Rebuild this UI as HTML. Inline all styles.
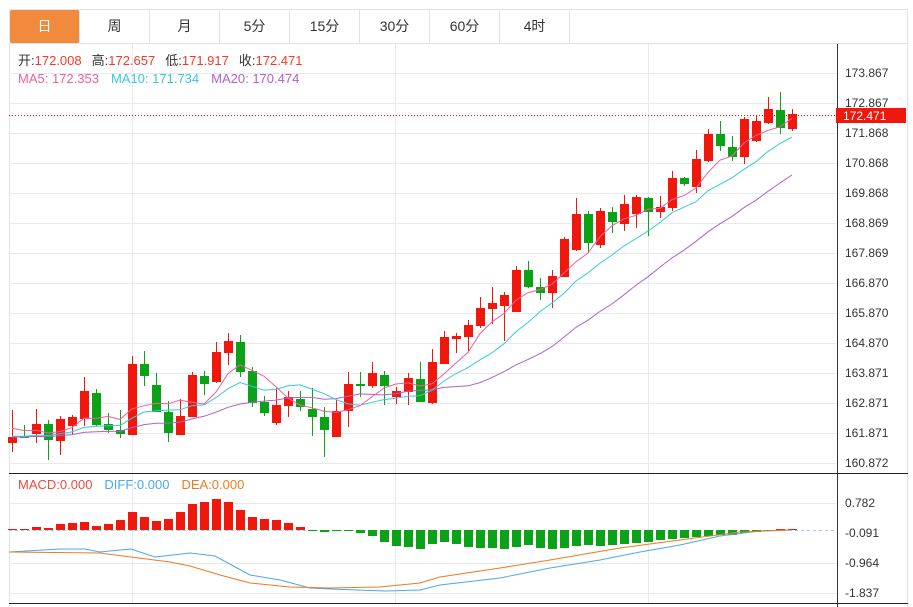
<!DOCTYPE html>
<html><head><meta charset="utf-8">
<style>
body{margin:0;background:#fff;width:913px;height:607px;overflow:hidden;font-family:"Liberation Sans","Noto Sans CJK SC",sans-serif;}
#tabs{position:absolute;left:9px;top:9px;height:35px;width:899px;border:1px solid #dde3e8;box-sizing:border-box;}
.t{position:absolute;top:0;height:33px;width:70px;line-height:33px;text-align:center;font-size:14px;color:#333;border-right:1px solid #dde3e8;box-sizing:border-box;}
svg{position:absolute;left:0;top:0}
</style></head><body>
<div id="tabs">
<div class="t" style="left:0;background:#f28a3d;color:#fff;border-radius:2px">日</div>
<div class="t" style="left:70px">周</div>
<div class="t" style="left:140px">月</div>
<div class="t" style="left:210px">5分</div>
<div class="t" style="left:280px">15分</div>
<div class="t" style="left:350px">30分</div>
<div class="t" style="left:420px">60分</div>
<div class="t" style="left:490px">4时</div>
</div>
<svg id="s" width="913" height="607" xmlns="http://www.w3.org/2000/svg" font-family="Liberation Sans, Noto Sans CJK SC, sans-serif">
<g id="grid" stroke="#e4eaf0" stroke-width="1"></g>
<line x1="9.5" y1="44" x2="9.5" y2="607" stroke="#dde3e8"/>
<line x1="907.5" y1="44" x2="907.5" y2="607" stroke="#dde3e8"/>
<line x1="837.5" y1="44" x2="837.5" y2="607" stroke="#333"/>
<line x1="9" y1="473.5" x2="908" y2="473.5" stroke="#222"/>
<line x1="9" y1="603.5" x2="908" y2="603.5" stroke="#222"/>
<line x1="9" y1="115.5" x2="836" y2="115.5" stroke="#f0180c" stroke-dasharray="1,2"/>
<line x1="9" y1="530.5" x2="836" y2="530.5" stroke="#b0c8d8" stroke-dasharray="3,3"/>
<g id="macd"></g>
<g id="cdl"></g>
<g id="lines" fill="none" stroke-width="1"></g>
<g font-size="12" fill="#333">
<text x="845" y="77">173.867</text><text x="845" y="107">172.867</text><text x="845" y="137">171.868</text>
<text x="845" y="167">170.868</text><text x="845" y="197">169.868</text><text x="845" y="227">168.869</text>
<text x="845" y="257">167.869</text><text x="845" y="287">166.870</text><text x="845" y="317">165.870</text>
<text x="845" y="347">164.870</text><text x="845" y="377">163.871</text><text x="845" y="407">162.871</text>
<text x="845" y="437">161.871</text><text x="845" y="467">160.872</text>
<text x="845" y="507">0.782</text><text x="845" y="537">-0.091</text><text x="845" y="567">-0.964</text><text x="845" y="597">-1.837</text>
</g>
<rect x="836" y="108" width="70" height="15" fill="#f0180c"/>
<text x="843" y="120" font-size="12" fill="#fff">172.471</text>
<g font-size="13">
<text x="18" y="65"><tspan fill="#333">开:</tspan><tspan fill="#f03a2a">172.008</tspan><tspan fill="#333" dx="10">高:</tspan><tspan fill="#f03a2a">172.657</tspan><tspan fill="#333" dx="10">低:</tspan><tspan fill="#f03a2a">171.917</tspan><tspan fill="#333" dx="10">收:</tspan><tspan fill="#f03a2a">172.471</tspan></text>
<text x="18" y="83"><tspan fill="#f0609a">MA5: 172.353</tspan><tspan fill="#38c8e0" dx="12">MA10: 171.734</tspan><tspan fill="#b060d0" dx="12">MA20: 170.474</tspan></text>
<text x="18" y="489"><tspan fill="#f04a3a">MACD:0.000</tspan><tspan fill="#4aa8f0" dx="12">DIFF:0.000</tspan><tspan fill="#f07a20" dx="12">DEA:0.000</tspan></text>
</g>
</svg>
<script>
var NS="http://www.w3.org/2000/svg";
function el(p,t,a){var e=document.createElementNS(NS,t);for(var k in a)e.setAttribute(k,a[k]);p.appendChild(e);return e;}
var g=document.getElementById('grid');
for(var y=73;y<=463;y+=30)el(g,'line',{x1:9,x2:836,y1:y+.5,y2:y+.5});
[503,563,593].forEach(function(y){el(g,'line',{x1:9,x2:836,y1:y+.5,y2:y+.5});});
[132,395,648].forEach(function(x){el(g,'line',{x1:x+.5,x2:x+.5,y1:44,y2:603});});
var C=[[1,410,437,443,452],[0,425,436,438,438],[1,409,424,434,443],[0,420,424,440,460],[1,416,419,441,455],[1,415,417,426,434],[1,377,391,419,426],[0,389,393,425,426],[0,413,424,430,433],[0,410,430,434,438],
[1,356,364,435,435],[0,351,364,376,386],[0,373,385,412,412],[0,401,412,433,442],[1,399,416,435,435],[1,372,375,417,417],[0,371,376,384,395],[1,342,352,382,383],[1,333,341,353,365],[0,335,342,372,377],
[0,367,371,403,407],[0,396,402,413,416],[1,388,405,423,425],[1,391,397,406,417],[0,391,399,407,411],[0,388,409,417,436],[0,407,417,430,457],[1,400,411,437,437],[1,372,384,411,427],[0,372,384,386,397],
[1,362,373,386,388],[0,371,375,386,405],[1,387,391,397,404],[1,373,378,392,405],[0,362,379,402,402],[1,349,362,403,404],[1,331,337,364,364],[1,333,336,339,353],[1,320,325,337,351],[1,297,308,326,328],
[1,287,303,309,324],[1,292,295,306,341],[1,266,270,312,312],[0,261,270,287,288],[0,278,287,293,300],[1,270,276,293,308],[1,237,239,277,277],[1,198,214,250,251],[0,211,214,243,253],[1,208,211,245,248],
[0,207,212,222,233],[1,195,204,224,231],[1,195,197,214,228],[0,197,198,212,236],[1,196,207,212,218],[1,171,178,208,211],[0,177,178,184,186],[1,150,159,187,193],[1,129,134,161,162],[0,121,134,146,151],
[0,136,147,157,161],[1,117,119,157,164],[1,115,121,141,142],[1,97,109,123,124],[0,92,110,128,134],[1,109,114,129,131]];
var cg=document.getElementById('cdl'),cl=[];
C.forEach(function(c,i){var x=12+12*i,col=c[0]?'#f0180c':'#0ca218';
el(cg,'line',{x1:x+.5,x2:x+.5,y1:c[1],y2:c[4],stroke:col});
el(cg,'rect',{x:x-4,y:c[2],width:9,height:Math.max(1,c[3]-c[2]),fill:col});
cl.push(c[0]?c[2]:c[3]);});
function ma(n,pre){var pts=[];for(var i=0;i<cl.length;i++){var s=0,k=0;for(var j=i;j>i-n;j--){s+=(j>=0?cl[j]:pre);k++;}pts.push((12+12*i)+','+(s/k).toFixed(1));}return pts.join(' ');}
var lg=document.getElementById('lines');
el(lg,'polyline',{points:ma(20,437),stroke:'#b060d0'});
el(lg,'polyline',{points:ma(10,436),stroke:'#38c8e0'});
el(lg,'polyline',{points:ma(5,426),stroke:'#f0609a'});
var H=[529,529,527,528,524,523,522,526,524,520,512,517,521,519,512,504,502,499,502,510,517,519,520,523,527,531,532,530,530,533,536,542,546,547,549,544,542,544,547,548,548,549,547,545,548,549,548,546,545,546,545,544,543,542,540,539,538,537,536,535,535,533,532,530,529,529];
var mg=document.getElementById('macd');
H.forEach(function(h,i){var x=12+12*i,z=530;var col=h<z?'#f0180c':'#0ca218';
el(mg,'rect',{x:x-4,y:Math.min(h,z),width:9,height:Math.max(1,Math.abs(h-z)),fill:col});});
el(lg,'polyline',{points:'9,552 60,549 85,549 100,552 131,549 155,557 190,553 215,556 250,575 280,580 310,588 330,589 385,591 420,590 440,585 500,578 550,568 600,560 640,552 680,545 720,536 760,531 790,530',stroke:'#4aa8f0'});
el(lg,'polyline',{points:'9,552 100,553 131,557 170,562 190,566 220,575 250,583 290,587 330,588 380,587 420,583 440,577 500,568 550,560 620,548 680,540 740,532 790,530',stroke:'#f07a20'});
</script>
</body></html>
